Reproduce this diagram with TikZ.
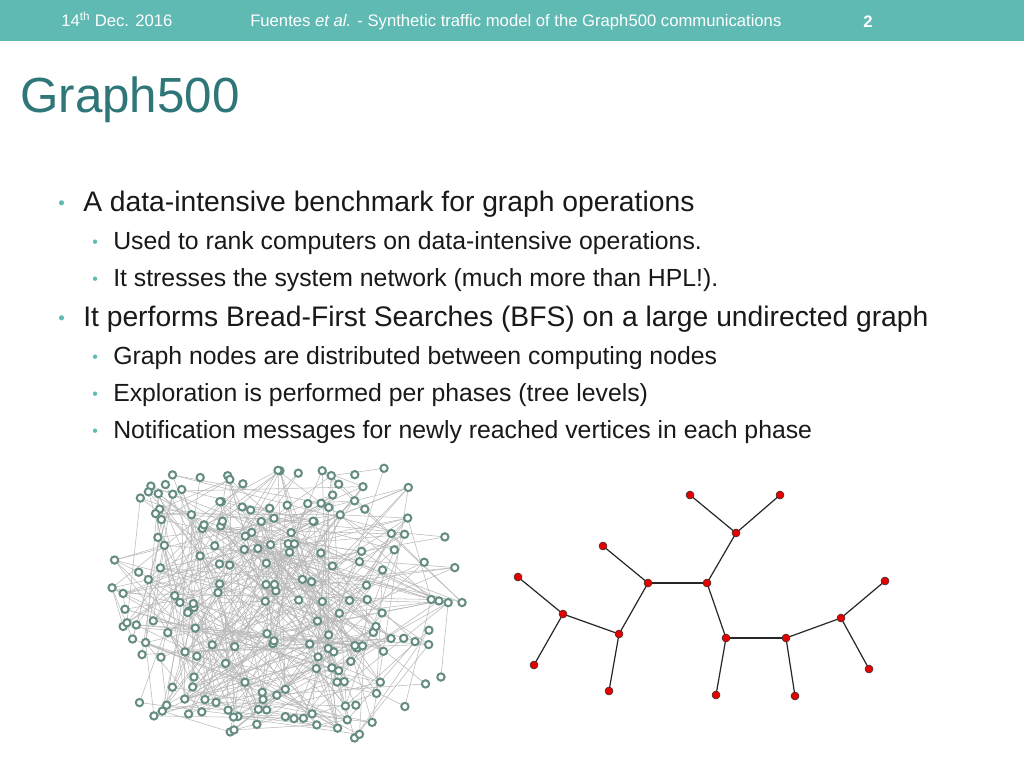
\documentclass[tikz,border=0pt]{standalone}
\usepackage{fontspec}
\setmainfont{Liberation Sans}
\begin{document}
\begin{tikzpicture}[x=0.75pt,y=-0.75pt,
  bar/.style={fill=barc,draw=none},
  hdr/.style={text=white,font=\fontsize{12.5}{14}\selectfont,inner sep=0,anchor=base west},
  b1/.style={font=\fontsize{21.2}{24}\selectfont,inner sep=0,anchor=base west,text=txt},
  b2/.style={font=\fontsize{18.6}{21}\selectfont,inner sep=0,anchor=base west,text=txt},
  dot/.style={text=bulc,inner sep=0,anchor=base west},
  rv/.style={circle,draw=gnode,line width=1.5pt,fill=white,minimum size=5.5pt,inner sep=0},
  re/.style={draw=gray!55,line width=0.4pt},
  tv/.style={circle,draw=black!80,fill=red!90!black,minimum size=6pt,inner sep=0,line width=0.4pt},
  te/.style={draw=black!85,line width=0.9pt}]
\definecolor{barc}{RGB}{94,186,178}
\definecolor{ttl}{RGB}{47,118,120}
\definecolor{txt}{RGB}{25,25,25}
\definecolor{bulc}{RGB}{94,186,178}
\definecolor{gnode}{RGB}{100,140,130}
\useasboundingbox (0,0) rectangle (1024,768);
\fill[white] (0,0) rectangle (1024,768);
\fill[bar] (0,0) rectangle (1024,41);
\node[hdr] (d) at (61,26) {14\textsuperscript{th} Dec. 2016};
\node[hdr] (h) at (250,26) {Fuentes \textit{et al.} - Synthetic traffic model of the Graph500 communications};
\node[hdr,font=\fontsize{12.5}{14}\selectfont\bfseries] (p) at (863,27) {2};
\node[inner sep=0,anchor=base west,text=ttl,font=\fontsize{37}{40}\selectfont] (t) at (20,112) {Graph500};
\node[dot,font=\fontsize{14}{16}\selectfont] (k1) at (58,209) {•};
\node[b1] (l1) at (83,211) {A data-intensive benchmark for graph operations};
\node[dot,font=\fontsize{12}{16}\selectfont] (k2) at (92,247) {•};
\node[b2] (l2) at (113,249) {Used to rank computers on data-intensive operations.};
\node[dot,font=\fontsize{12}{16}\selectfont] (k3) at (92,284) {•};
\node[b2] (l3) at (113,286) {It stresses the system network (much more than HPL!).};
\node[dot,font=\fontsize{14}{16}\selectfont] (k4) at (58,324) {•};
\node[b1] (l4) at (83,326) {It performs Bread-First Searches (BFS) on a large undirected graph};
\node[dot,font=\fontsize{12}{16}\selectfont] (k5) at (92,362) {•};
\node[b2] (l5) at (113,364) {Graph nodes are distributed between computing nodes};
\node[dot,font=\fontsize{12}{16}\selectfont] (k6) at (92,399) {•};
\node[b2] (l6) at (113,401) {Exploration is performed per phases (tree levels)};
\node[dot,font=\fontsize{12}{16}\selectfont] (k7) at (92,436) {•};
\node[b2] (l7) at (113,438) {Notification messages for newly reached vertices in each phase};
% random graph
\pgfmathsetseed{777}
\foreach \i in {1,...,190}{
  \pgfmathsetmacro{\yy}{466+rnd*272}
  \pgfmathsetmacro{\u}{abs(\yy-600)/140}
  \pgfmathsetmacro{\hw}{178*(1-0.32*\u*\u)}
  \pgfmathsetmacro{\rr}{rnd}
  \pgfmathsetmacro{\xx}{285-\hw+2*\hw*\rr}
  \coordinate (c\i) at (\xx,\yy);
}
\foreach \j in {1,...,400}{
  \pgfmathtruncatemacro{\a}{1+int(rnd*189.99)}
  \pgfmathtruncatemacro{\b}{1+int(rnd*189.99)}
  \draw[re] (c\a) -- (c\b);
}
\foreach \i in {1,...,190}{ \node[rv] (v\i) at (c\i) {}; }
% tree
\foreach \n/\x/\y in {A/690/495,B/780/495,C/736/533,D/603/546,E/648/583,F/707/583,G/518/577,H/563/614,I/619/634,J/726/638,K/786/638,L/841/618,M/885/581,N/534/665,O/609/691,P/716/695,Q/795/696,R/869/669}
  \coordinate (p\n) at (\x,\y);
\foreach \a/\b in {A/C,B/C,C/F,F/E,D/E,E/I,I/H,H/G,H/N,I/O,F/J,J/K,K/L,L/M,L/R,J/P,K/Q}
  \draw[te] (p\a) -- (p\b);
\foreach \n in {A,B,C,D,E,F,G,H,I,J,K,L,M,N,O,P,Q,R}
  \node[tv] (t\n) at (p\n) {};
\end{tikzpicture}
\end{document}
